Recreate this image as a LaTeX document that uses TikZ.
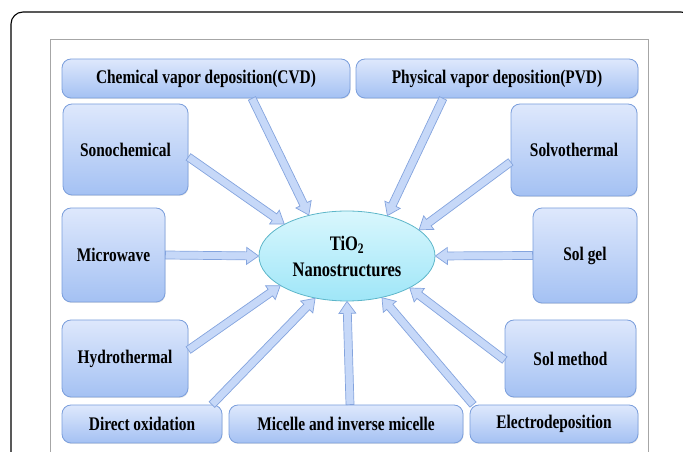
\documentclass[tikz,border=0pt]{standalone}
\usepackage{fontspec}
\setmainfont{Liberation Serif}
\usepackage{tikz}
\usetikzlibrary{calc, shadows, shapes.geometric}
\usepackage{xcolor}
\definecolor{boxtop}{HTML}{DEE8FC}
\definecolor{boxbottom}{HTML}{A4C1F3}
\definecolor{boxline}{HTML}{7A9EDC}
\definecolor{ovaltop}{HTML}{D9F7FD}
\definecolor{ovalbottom}{HTML}{9FE6F8}
\definecolor{ovalline}{HTML}{5DB6C9}
\definecolor{arrowfill}{HTML}{C6D8F8}
\definecolor{arrowline}{HTML}{84A4DE}

% taller lettering
\newcommand{\tall}[1]{\scalebox{1}[1.25]{#1}}

% hollow block arrow from #1 to #2
\newcommand{\fatarrow}[2]{%
  \draw[fatarrow] let \p1=#1, \p2=#2, \n1={atan2(\y2-\y1,\x2-\x1)},
      \p3=($(\p2)+(\n1:-12pt)$) in
    ($(\p1)+(\n1+90:4pt)$) -- ($(\p3)+(\n1+90:4pt)$) -- ($(\p3)+(\n1+90:8.5pt)$)
    -- (\p2) -- ($(\p3)+(\n1-90:8.5pt)$) -- ($(\p3)+(\n1-90:4pt)$)
    -- ($(\p1)+(\n1-90:4pt)$) -- cycle;}

\begin{document}
\begin{tikzpicture}[x=1pt, y=1pt,
    method/.style={draw=boxline, line width=0.8pt, rounded corners=9pt,
      top color=boxtop, bottom color=boxbottom, inner sep=0pt,
      font=\bfseries\fontsize{15.4}{18}\selectfont,
      drop shadow={opacity=0.2, shadow xshift=0.6pt, shadow yshift=-1pt}},
    fatarrow/.style={draw=arrowline, line width=0.7pt, fill=arrowfill}]
  \useasboundingbox (0,0) rectangle (683,452);
  % frames
  \begin{scope}
    \clip (0,0) rectangle (683,452);
    \draw[line width=1.1pt, rounded corners=12pt] (11,440) rectangle (693,-30);
    \draw[gray!70, line width=0.6pt] (50,413) rectangle (648,-10);
  \end{scope}

  % centre
  \node[ellipse, draw=ovalline, line width=0.8pt, top color=ovaltop, bottom color=ovalbottom,
    minimum width=176pt, minimum height=90pt, inner sep=0pt, align=center,
    font=\bfseries\fontsize{16.5}{26}\selectfont] (tio) at (347,196)
    {\tall{TiO\textsubscript{2}}\\\tall{Nanostructures}};

  % top row
  \node[method, minimum width=288pt, minimum height=39pt] (cvd) at (206,373.5) {\tall{Chemical vapor deposition(CVD)}};
  \node[method, minimum width=282pt, minimum height=39pt] (pvd) at (497,373.5) {\tall{Physical vapor deposition(PVD)}};
  % left column
  \node[method, minimum width=125pt, minimum height=91pt] (sono) at (125.5,302.5) {\tall{Sonochemical}};
  \node[method, minimum width=103pt, minimum height=94pt] (micro) at (113.5,197) {\tall{Microwave}};
  \node[method, minimum width=126pt, minimum height=77pt] (hydro) at (125,93.5) {\tall{Hydrothermal}};
  % right column
  \node[method, minimum width=126pt, minimum height=92pt] (solvo) at (574,302) {\tall{Solvothermal}};
  \node[method, minimum width=104pt, minimum height=95pt] (solgel) at (585,196.5) {\tall{Sol gel}};
  \node[method, minimum width=131pt, minimum height=77pt] (solmeth) at (570.5,93.5) {\tall{Sol method}};
  % bottom row
  \node[method, minimum width=160pt, minimum height=38pt] (direct) at (142,28) {\tall{Direct oxidation}};
  \node[method, minimum width=234pt, minimum height=38pt] (micelle) at (346,28) {\tall{Micelle and inverse micelle}};
  \node[method, minimum width=168pt, minimum height=38pt] (electro) at (554,28) {\tall{Electrodeposition}};

  % arrows
  \fatarrow{($(cvd.south)+(46,0)$)}{(tio.133.5)}
  \fatarrow{($(pvd.south)+(-54,0)$)}{(tio.45.7)}
  \fatarrow{($(sono.east)+(0,-7.5)$)}{(tio.153.8)}
  \fatarrow{($(solvo.west)+(0,-12)$)}{(tio.20)}
  \fatarrow{(micro.east)}{(tio.180)}
  \fatarrow{(solgel.west)}{(tio.0)}
  \fatarrow{($(hydro.east)+(0,8.5)$)}{(tio.204)}
  \fatarrow{($(direct.north)+(70,0)$)}{(tio.233.8)}
  \fatarrow{($(micelle.north)+(4,0)$)}{(tio.270)}
  \fatarrow{($(electro.north)+(-81,0)$)}{(tio.310.5)}
  \fatarrow{($(solmeth.west)+(0,-1.5)$)}{(tio.333.8)}
\end{tikzpicture}
\end{document}
